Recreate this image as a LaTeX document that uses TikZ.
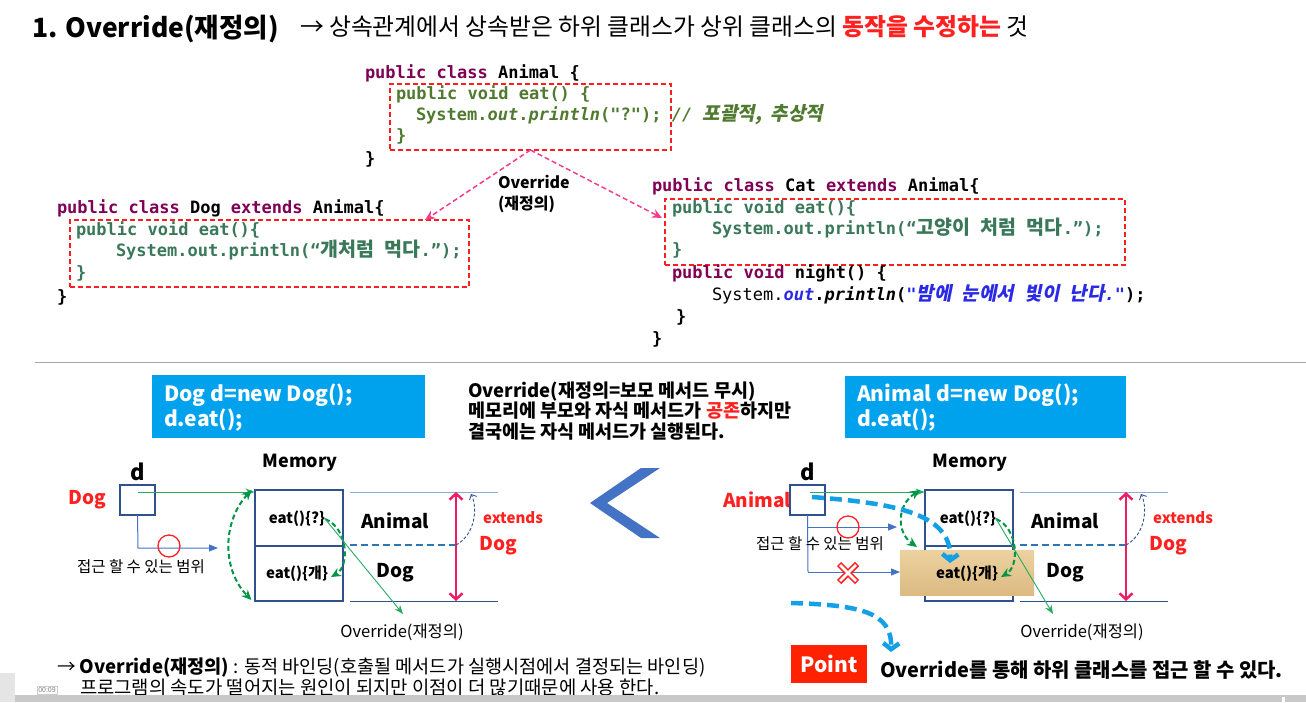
\documentclass[tikz,border=0pt]{standalone}
\usepackage{fontspec}
\setmainfont{Noto Sans CJK KR}
\newfontfamily\kr{Noto Sans CJK KR}
\newfontfamily\kri{Noto Sans CJK KR}[FakeSlant=0.2]
\setmonofont{DejaVu Sans Mono}
\usetikzlibrary{arrows.meta,calc}

% colours
\definecolor{kwpurple}{RGB}{127,0,85}
\definecolor{codeolive}{RGB}{80,122,48}
\definecolor{codeteal}{RGB}{58,120,90}
\definecolor{boxred}{RGB}{255,30,30}
\definecolor{arrpink}{RGB}{245,60,140}
\definecolor{strblue}{RGB}{42,42,230}
\definecolor{sky}{RGB}{0,162,237}
\definecolor{memblue}{RGB}{47,82,143}
\definecolor{linelight}{RGB}{143,170,220}
\definecolor{dashblue}{RGB}{46,117,182}
\definecolor{vpink}{RGB}{238,30,100}
\definecolor{grn}{RGB}{0,150,70}
\definecolor{grnthin}{RGB}{40,170,100}
\definecolor{accblue}{RGB}{68,114,196}
\definecolor{hired}{RGB}{255,32,32}
\definecolor{tanA}{RGB}{236,210,160}
\definecolor{tanB}{RGB}{220,186,130}
\definecolor{thickblue}{RGB}{20,160,230}
\definecolor{pointred}{RGB}{255,34,0}
\definecolor{barGray}{RGB}{200,200,200}

\newcommand\codefont{\ttfamily\bfseries\fontsize{17}{20}\selectfont}
\newcommand\krc{\kr\fontsize{19.5}{20}\selectfont}
\newcommand\kric{\kri\fontsize{19}{20}\selectfont}
\newcommand\kw[1]{\textcolor{kwpurple}{#1}}
\newcommand\fs[1]{\fontsize{#1}{#1}\selectfont}

\tikzset{
  every node/.style={inner sep=0pt, outer sep=0pt},
  code/.style={anchor=base west, font=\codefont},
  redbox/.style={draw=boxred, line width=1.8pt, dash pattern=on 5pt off 3pt},
  pinkarrow/.style={draw=arrpink, line width=1.5pt, dash pattern=on 5pt off 3pt,
    -{Stealth[length=10pt,width=9pt]}},
  skybox/.style={fill=sky},
  boxtext/.style={anchor=base west, text=white, font=\bfseries\fs{21}},
  midtext/.style={anchor=base west, font=\bfseries\fs{18.5}},
  redlab/.style={text=hired, font=\bfseries\fs{19}},
  dboxstyle/.style={draw=memblue, line width=1.2pt, minimum width=35pt, minimum height=30pt},
  memstyle/.style={draw=memblue, line width=2pt, minimum width=88pt, minimum height=111pt},
  eatlab/.style={font=\bfseries\fs{15}},
  partlab/.style={font=\bfseries\fs{19}},
  memlab/.style={font=\bfseries\fs{18}},
  hline/.style={draw=linelight, line width=1pt},
  hlinedark/.style={draw=memblue, line width=1pt},
  divdash/.style={draw=dashblue, line width=2pt, dash pattern=on 7pt off 4pt},
  vpinkarrow/.style={draw=vpink, line width=2.5pt,
    {Straight Barb[length=6pt,width=13pt]}-{Straight Barb[length=6pt,width=13pt]}},
  extarrow/.style={draw=memblue, line width=0.9pt, dash pattern=on 3pt off 2pt,
    -{Straight Barb[length=4pt,width=8pt]}},
  grnthinarrow/.style={draw=grnthin, line width=0.9pt, -{Stealth[length=9pt,width=7pt]}},
  grndash/.style={draw=grn, line width=2pt, dash pattern=on 5pt off 3pt},
  grntip/.style={-{Stealth[length=10pt,width=9pt]}},
  grntips/.style={{Stealth[length=10pt,width=9pt]}-{Stealth[length=10pt,width=9pt]}},
  accarrow/.style={draw=accblue, line width=1pt, -{Triangle[length=9pt,width=7pt]}},
  accline/.style={draw=accblue, line width=1pt},
  okcircle/.style={circle, draw=hired, line width=1.3pt, minimum size=22pt},
  smalllab/.style={font=\fs{15.5}},
  ovlab/.style={font=\fs{16.5}},
  thickdash/.style={draw=thickblue, line width=4.5pt, dash pattern=on 12pt off 6pt,
    -{Straight Barb[length=6pt,width=16pt]}},
}

\begin{document}
\begin{tikzpicture}[x=1pt,y=-1pt]
\useasboundingbox (0,0) rectangle (1306,702);
\fill[white] (0,0) rectangle (1306,702);

% ---------- heading ----------
\node[anchor=base west, font=\bfseries\fs{26.5}] (title) at (32,37) {1. Override(재정의)};
\node[anchor=base west, font=\fs{23.8}] (subtitle) at (300,35)
  {→ 상속관계에서 상속받은 하위 클래스가 상위 클래스의 \textcolor{hired}{\bfseries 동작을 수정하는} 것};

% ---------- class Animal ----------
\node[redbox, minimum width=281pt, minimum height=66pt] (abox) at (530.5,117) {};
\node[code] (a1) at (365,78) {\kw{public class} Animal \{};
\node[code, text=codeolive] (a2) at (396,99) {public void eat() \{};
\node[code, text=codeolive] (a3) at (416,120)
  {System.\textit{out}.\textit{println}("?"); \textit{//} {\kric 포괄적,\hspace{9pt}추상적}};
\node[code, text=codeolive] (a4) at (396,141) {\}};
\node[code] (a5) at (365,164) {\}};

% ---------- class Dog ----------
\node[redbox, minimum width=399pt, minimum height=67pt] (dbox) at (269.5,253.5) {};
\node[code] (d1) at (57,213) {\kw{public class} Dog \kw{extends} Animal\{};
\node[code, text=codeteal] (d2) at (76,235) {public void eat()\{};
\node[code, text=codeteal] (d3) at (116,256) {System.out.println(“{\krc 개처럼} {\krc 먹다}.”);};
\node[code, text=codeteal] (d4) at (76,278) {\}};
\node[code] (d5) at (57,302) {\}};

% ---------- class Cat ----------
\node[redbox, minimum width=460pt, minimum height=66pt] (cbox) at (895,232) {};
\node[code] (c1) at (652,191) {\kw{public class} Cat \kw{extends} Animal\{};
\node[code, text=codeteal] (c2) at (672,213) {public void eat()\{};
\node[code, text=codeteal] (c3) at (712,234) {System.out.println(“{\krc 고양이} {\krc 처럼} {\krc 먹다}.”);};
\node[code, text=codeteal] (c4) at (672,255) {\}};
\node[code] (c5) at (672,278) {\kw{public void} night() \{};
\node[code] (c6) at (712,300)
  {{\mdseries System.}\textcolor{strblue}{\textit{out}}.\textit{println}(\textcolor{strblue}{\textit{"{\kric 밤에} {\kric 눈에서} {\kric 빛이} {\kric 난다}."}});};
\node[code] (c7) at (676,322) {\}};
\node[code] (c8) at (652,344) {\}};

% inheritance arrows
\coordinate (dogtip) at ($(dbox.north east)+(-44,0)$);
\coordinate (cattip) at ($(cbox.west)+(-3,-14)$);
\draw[pinkarrow] (abox.south) -- (dogtip);
\draw[pinkarrow] (abox.south) -- (cattip);
\node[anchor=north west, align=left, font=\bfseries\fs{16}] (ovr) at (498,175) {Override\\[5pt](재정의)};

% separator
\coordinate (sepL) at (35,362);
\coordinate (sepR) at (1306,362);
\draw[gray!70, line width=0.8pt] (sepL) -- (sepR);

% ---------- code boxes ----------
\node[skybox, minimum width=273pt, minimum height=63pt] (lbox) at (288.5,406.5) {};
\node[boxtext] (lb1) at (164,401.5) {Dog d=new Dog();};
\node[boxtext] (lb2) at (164,426.5) {d.eat();};
\node[skybox, minimum width=281pt, minimum height=62pt] (rbox) at (985.5,407) {};
\node[boxtext] (rb1) at (857,401.5) {Animal d=new Dog();};
\node[boxtext] (rb2) at (857,426.5) {d.eat();};

\node[midtext] (m1) at (468,397) {Override(재정의=보모 메서드 무시)};
\node[midtext] (m2) at (468,417.5) {메모리에 부모와 자식 메서드가 \textcolor{hired}{공존}하지만};
\node[midtext] (m3) at (468,438) {결국에는 자식 메서드가 실행된다.};

% chevron
\fill[accblue] (641,468) -- (660,468) -- (607,503) -- (660,538) -- (641,538) -- (590,503) -- cycle;

% ---------- left memory diagram ----------
\node[font=\bfseries\fs{22}] (dlabL) at (138,472) {d};
\node[redlab] (typeL) at (87,500) {Dog};
\node[dboxstyle] (dboxL) at (137.5,500) {};
\node[memstyle] (memL) at (298.5,545.5) {};
\draw[memstyle] (memL.west) -- (memL.east);
\node[memlab] (memtL) at (300,463) {Memory};
\node[eatlab] (eat1L) at (297,519) {eat()\{?\}};
\node[eatlab] (eat2L) at (297,574) {eat()\{개\}};

\coordinate (tl1L) at (350,492); \coordinate (tl2L) at (498,492);
\coordinate (bl1L) at (350,601); \coordinate (bl2L) at (498,601);
\coordinate (ml1L) at (350,545); \coordinate (ml2L) at (456,545);
\draw[hline] (tl1L) -- (tl2L);
\draw[hlinedark] (bl1L) -- (bl2L);
\draw[divdash] (ml1L) -- (ml2L);
\node[partlab] (anL) at (395,521) {Animal};
\node[partlab] (dgL) at (395,573) {Dog};
\coordinate (vtL) at (456,492); \coordinate (vbL) at (456,601);
\draw[vpinkarrow] (vtL) -- (vbL);
\coordinate (exL) at (471,494);
\draw[extarrow] (ml2L) .. controls (475,535) and (478,508) .. (exL);
\node[text=hired, font=\bfseries\fs{15}] (extL) at (513,518) {extends};
\node[redlab] (dg2L) at (498,546) {Dog};

% reference arrow and access range
\coordinate (refL) at (138,492);
\draw[grnthinarrow] (refL) -- (memL.north west |- refL);
\coordinate (acc1L) at (138,548);
\coordinate (acc2L) at (218,548);
\draw[accarrow] (dboxL.south) -- (acc1L) -- (acc2L);
\node[okcircle] (okL) at (169,546) {};
\node[smalllab] (rangeL) at (141,567) {접근 할 수 있는 범위};

% override arrows
\draw[grndash, grntips] ($(memL.north west)+(-3,0)$) .. controls (222,522) and (222,570) .. ($(memL.south west)+(-3,-1)$);
\draw[grndash, grntip] (eat1L.east) .. controls (348,528) and (350,566) .. ($(eat2L.east)+(3,3)$);
\node[ovlab] (ovL) at (402,632) {Override(재정의)};
\coordinate (ovtipL) at (403,614);
\draw[grnthinarrow] (eat1L.east) -- (ovtipL);

% ---------- right memory diagram ----------
\node[font=\bfseries\fs{22}] (dlabR) at (808,472) {d};
\node[redlab] (typeR) at (757,500) {Animal};
\node[dboxstyle] (dboxR) at (807.5,500) {};
\node[memstyle] (memR) at (968.5,545.5) {};
\draw[memstyle] (memR.west) -- (memR.east);
\node[shade, top color=tanA, bottom color=tanB, minimum width=134pt, minimum height=45pt] (paper) at (967,572.5) {};
\node[memlab] (memtR) at (970,463) {Memory};
\node[eatlab] (eat1R) at (968,519) {eat()\{?\}};
\node[eatlab] (eat2R) at (967,574) {eat()\{개\}};

\coordinate (tl1R) at (1020,492); \coordinate (tl2R) at (1168,492);
\coordinate (bl1R) at (1020,601); \coordinate (bl2R) at (1168,601);
\coordinate (ml1R) at (1020,545); \coordinate (ml2R) at (1126,545);
\draw[hline] (tl1R) -- (tl2R);
\draw[hlinedark] (bl1R) -- (bl2R);
\draw[divdash] (ml1R) -- (ml2R);
\node[partlab] (anR) at (1065,521) {Animal};
\node[partlab] (dgR) at (1065,573) {Dog};
\coordinate (vtR) at (1126,492); \coordinate (vbR) at (1126,601);
\draw[vpinkarrow] (vtR) -- (vbR);
\coordinate (exR) at (1141,494);
\draw[extarrow] (ml2R) .. controls (1145,535) and (1148,508) .. (exR);
\node[text=hired, font=\bfseries\fs{15}] (extR) at (1183,518) {extends};
\node[redlab] (dg2R) at (1168,546) {Dog};

% reference arrow and access range
\coordinate (refR) at (810,492);
\draw[grnthinarrow] (refR) -- (memR.north west |- refR);
\coordinate (acc0R) at (808,527);
\coordinate (acc1R) at (897,527);
\coordinate (acc2R) at (808,572);
\coordinate (acc3R) at (900,572);
\draw[accline] (dboxR.south) -- (acc2R);
\draw[accarrow] (acc0R) -- (acc1R);
\draw[accarrow] (acc2R) -- (acc3R);
\node[okcircle] (okR) at (848,527) {};
\coordinate (noR) at (848,573);
\draw[hired, line width=6pt] ($(noR)+(-9,-9)$) -- ($(noR)+(9,9)$) ($(noR)+(-9,9)$) -- ($(noR)+(9,-9)$);
\draw[white, line width=2.6pt] ($(noR)+(-8,-8)$) -- ($(noR)+(8,8)$) ($(noR)+(-8,8)$) -- ($(noR)+(8,-8)$);
\node[smalllab] (rangeR) at (820,544) {접근 할 수 있는 범위};

% override arrows
\coordinate (gtR) at (920,490);
\coordinate (gbR) at (917,547);
\draw[grndash, grntips] (gtR) .. controls (897,505) and (896,532) .. (gbR);
\draw[grndash, grntip] (eat1R.east) .. controls (1018,528) and (1020,566) .. ($(eat2R.east)+(3,3)$);
\node[ovlab] (ovR) at (1082,632) {Override(재정의)};
\coordinate (ovtipR) at (1053,614);
\draw[grnthinarrow] (eat1R.east) -- (ovtipR);

% dynamic binding path
\coordinate (bindS) at (812,497);
\coordinate (bindE) at (950,563);
\draw[thickdash] (bindS) .. controls (890,503) and (952,512) .. (bindE);

% ---------- notes ----------
\node[anchor=base west, font=\fs{18.6}] (note1) at (57,673)
  {→ \textbf{Override(재정의)} : 동적 바인딩(호출될 메서드가 실행시점에서 결정되는 바인딩)};
\node[anchor=base west, font=\fs{18.8}] (note2) at (80,694)
  {프로그램의 속도가 떨어지는 원인이 되지만 이점이 더 많기때문에 사용 한다.};

\node[fill=pointred, minimum width=76pt, minimum height=38pt] (pointbox) at (829,664) {};
\node[text=white, font=\bfseries\fs{21}] (pointtxt) at (829,664) {Point};
\node[anchor=base west, font=\bfseries\fs{19.9}] (pointline) at (880,677) {Override를 통해 하위 클래스를 접근 할 수 있다.};
\coordinate (hintS) at (791,603);
\coordinate (hintE) at (891,652);
\draw[thickdash] (hintS) .. controls (860,605) and (892,612) .. (hintE);

% ---------- player bar ----------
\fill[barGray] (15,695) rectangle (1306,702);
\fill[gray!20] (0,673) rectangle (15,702);
\node[draw=gray!40, fill=white, text=gray, font=\fs{7}, inner sep=1.5pt] (clock) at (47,690) {00:09};
\fill[white] (1282,697) rectangle (1285,702);
\end{tikzpicture}
\end{document}
